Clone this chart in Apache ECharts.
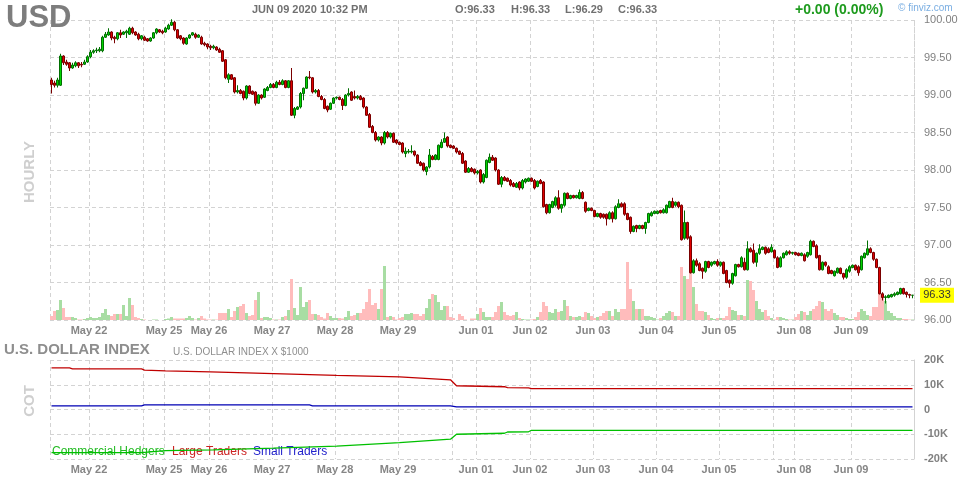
<!DOCTYPE html>
<html><head><meta charset="utf-8">
<script src="https://cdn.jsdelivr.net/npm/echarts/dist/echarts.min.js"></script>
<style>html,body{margin:0;padding:0;background:#fff}#c{width:964px;height:480px}</style>
</head><body><div id="c"></div>
<script>
// trading sessions: [label, number of hourly bars]
const days = [['May 21',13],['May 22',18],['',7],['May 25',15],['May 26',21],['May 27',21],['May 28',21],['May 29',18],['',8],['Jun 01',18],['Jun 02',21],['Jun 03',21],['Jun 04',21],['Jun 05',18],['',7],['Jun 08',19],['Jun 09',21]];
// hourly candles [open, close, low, high]
const candles = [
[99.20,99.14,99.02,99.23],[99.16,99.13,99.10,99.19],[99.13,99.20,99.10,99.23],[99.13,99.52,99.12,99.55],[99.52,99.43,99.40,99.53],[99.44,99.41,99.39,99.47],
[99.43,99.36,99.32,99.44],[99.36,99.40,99.35,99.43],[99.39,99.43,99.37,99.45],[99.43,99.39,99.36,99.44],[99.41,99.40,99.37,99.44],[99.41,99.44,99.40,99.47],
[99.44,99.51,99.43,99.53],[99.51,99.57,99.49,99.60],[99.57,99.59,99.55,99.61],[99.59,99.60,99.56,99.63],[99.59,99.61,99.57,99.64],[99.59,99.77,99.57,99.79],
[99.77,99.81,99.76,99.84],[99.80,99.84,99.79,99.89],[99.84,99.76,99.73,99.85],[99.77,99.75,99.69,99.79],[99.75,99.83,99.73,99.84],[99.83,99.80,99.76,99.87],
[99.81,99.84,99.80,99.85],[99.83,99.85,99.76,99.87],[99.81,99.89,99.80,99.91],[99.89,99.83,99.81,99.91],[99.84,99.80,99.79,99.85],[99.81,99.75,99.73,99.83],
[99.75,99.79,99.73,99.80],[99.77,99.73,99.72,99.79],[99.75,99.72,99.71,99.76],[99.72,99.76,99.71,99.77],[99.76,99.83,99.75,99.84],[99.83,99.88,99.81,99.89],
[99.87,99.84,99.83,99.88],[99.85,99.83,99.81,99.87],[99.84,99.89,99.83,99.91],[99.88,99.93,99.87,99.95],[99.93,99.97,99.92,100.01],[99.97,99.87,99.85,99.99],
[99.87,99.76,99.75,99.88],[99.79,99.75,99.73,99.80],[99.76,99.69,99.67,99.77],[99.68,99.76,99.67,99.77],[99.76,99.80,99.75,99.81],[99.80,99.83,99.79,99.84],
[99.81,99.77,99.75,99.83],[99.77,99.80,99.76,99.81],[99.77,99.68,99.67,99.79],[99.69,99.67,99.65,99.71],[99.68,99.64,99.61,99.69],[99.65,99.63,99.60,99.67],
[99.63,99.65,99.61,99.67],[99.64,99.60,99.59,99.65],[99.61,99.57,99.56,99.63],[99.59,99.45,99.44,99.60],[99.47,99.23,99.21,99.48],[99.21,99.27,99.16,99.29],
[99.27,99.21,99.20,99.28],[99.23,99.04,99.02,99.24],[99.04,99.06,99.02,99.13],[99.06,99.02,99.01,99.08],[99.05,98.96,98.93,99.06],[98.96,99.12,98.94,99.13],
[99.12,99.02,99.01,99.13],[99.05,99.01,99.00,99.06],[99.04,98.89,98.86,99.05],[98.89,99.00,98.88,99.01],[99.00,98.96,98.94,99.01],[98.97,99.08,98.96,99.09],
[99.06,99.10,99.05,99.12],[99.10,99.14,99.09,99.16],[99.14,99.10,99.09,99.16],[99.10,99.17,99.09,99.19],[99.17,99.14,99.13,99.20],[99.14,99.19,99.13,99.21],
[99.19,99.10,99.09,99.20],[99.10,99.19,99.09,99.20],[99.19,98.73,98.72,99.36],[98.73,98.82,98.69,98.84],[98.81,98.84,98.80,98.85],[98.84,99.02,98.82,99.04],
[99.02,99.09,98.93,99.10],[99.09,99.24,99.08,99.25],[99.24,99.23,99.21,99.32],[99.23,99.04,99.02,99.24],[99.04,99.06,99.02,99.08],[99.06,98.98,98.97,99.08],
[98.98,98.94,98.93,99.00],[98.94,98.82,98.81,98.96],[98.85,98.80,98.77,98.86],[98.81,98.89,98.80,98.90],[98.89,98.96,98.88,98.97],[98.96,98.97,98.94,98.98],
[98.97,98.94,98.93,98.98],[98.94,98.86,98.80,98.96],[98.86,99.00,98.85,99.01],[99.00,99.02,98.98,99.09],[99.04,98.93,98.92,99.05],[98.98,98.96,98.94,99.06],
[98.96,98.98,98.94,99.00],[98.98,98.94,98.93,99.00],[98.96,98.84,98.82,98.97],[98.84,98.73,98.72,98.85],[98.74,98.57,98.56,98.76],[98.58,98.50,98.49,98.60],
[98.50,98.40,98.38,98.52],[98.40,98.44,98.38,98.45],[98.44,98.36,98.33,98.45],[98.36,98.50,98.34,98.52],[98.50,98.44,98.42,98.52],[98.44,98.49,98.42,98.50],
[98.49,98.37,98.36,98.50],[98.40,98.36,98.34,98.41],[98.37,98.34,98.33,98.38],[98.36,98.24,98.22,98.37],[98.22,98.25,98.17,98.30],[98.24,98.25,98.22,98.28],
[98.24,98.25,98.22,98.33],[98.25,98.20,98.18,98.26],[98.20,98.09,98.08,98.21],[98.10,98.06,98.05,98.12],[98.09,98.00,97.98,98.10],[97.98,98.04,97.93,98.05],
[98.04,98.20,98.02,98.28],[98.18,98.14,98.13,98.20],[98.14,98.20,98.13,98.21],[98.14,98.33,98.13,98.34],[98.30,98.37,98.29,98.41],[98.37,98.42,98.36,98.50],
[98.44,98.32,98.30,98.45],[98.33,98.30,98.29,98.34],[98.32,98.29,98.28,98.33],[98.29,98.24,98.22,98.30],[98.25,98.21,98.20,98.26],[98.22,98.09,98.08,98.24],
[98.12,97.97,97.96,98.13],[97.97,98.02,97.96,98.04],[98.02,97.98,97.97,98.04],[98.01,97.96,97.94,98.02],[97.96,97.98,97.94,98.00],[98.00,97.84,97.82,98.01],
[97.84,97.94,97.82,97.96],[97.90,98.13,97.89,98.14],[98.10,98.17,98.09,98.22],[98.17,98.13,98.12,98.20],[98.16,98.00,97.98,98.17],[98.00,97.81,97.80,98.01],
[97.81,97.90,97.77,97.92],[97.90,97.86,97.85,97.92],[97.89,97.85,97.84,97.90],[97.86,97.80,97.78,97.88],[97.82,97.78,97.77,97.84],[97.77,97.82,97.76,97.84],
[97.84,97.76,97.73,97.85],[97.76,97.86,97.74,97.88],[97.84,97.88,97.82,97.89],[97.85,97.89,97.84,97.90],[97.89,97.85,97.84,97.90],[97.86,97.76,97.74,97.88],
[97.78,97.85,97.77,97.86],[97.86,97.82,97.81,97.88],[97.84,97.51,97.50,97.85],[97.54,97.43,97.41,97.55],[97.43,97.54,97.42,97.55],[97.50,97.58,97.49,97.59],
[97.53,97.63,97.51,97.65],[97.63,97.49,97.47,97.73],[97.49,97.54,97.43,97.55],[97.53,97.69,97.51,97.70],[97.69,97.62,97.61,97.70],[97.62,97.66,97.61,97.67],
[97.66,97.63,97.62,97.67],[97.63,97.66,97.62,97.67],[97.62,97.70,97.61,97.74],[97.70,97.62,97.61,97.72],[97.57,97.45,97.43,97.58],[97.46,97.49,97.45,97.50],
[97.49,97.46,97.45,97.50],[97.46,97.38,97.37,97.47],[97.38,97.42,97.37,97.43],[97.42,97.37,97.35,97.43],[97.41,97.37,97.35,97.42],[97.41,97.35,97.26,97.42],
[97.35,97.43,97.34,97.45],[97.43,97.35,97.30,97.45],[97.35,97.51,97.34,97.53],[97.50,97.55,97.49,97.61],[97.55,97.51,97.50,97.57],[97.55,97.41,97.39,97.57],
[97.42,97.34,97.33,97.43],[97.37,97.18,97.15,97.38],[97.18,97.25,97.17,97.26],[97.26,97.22,97.17,97.27],[97.22,97.26,97.21,97.27],[97.26,97.22,97.21,97.27],
[97.22,97.30,97.15,97.31],[97.30,97.42,97.29,97.43],[97.39,97.43,97.38,97.45],[97.42,97.45,97.41,97.46],[97.42,97.45,97.41,97.46],[97.46,97.43,97.42,97.47],
[97.43,97.47,97.42,97.49],[97.43,97.53,97.42,97.54],[97.50,97.58,97.49,97.59],[97.58,97.50,97.49,97.63],[97.53,97.57,97.51,97.58],[97.57,97.51,97.49,97.58],
[97.53,97.07,97.06,97.54],[97.09,97.30,97.07,97.46],[97.30,97.09,97.07,97.31],[97.11,96.63,96.62,97.13],[96.63,96.79,96.62,96.81],[96.79,96.73,96.71,96.82],
[96.75,96.66,96.65,96.77],[96.69,96.65,96.55,96.70],[96.65,96.78,96.63,96.79],[96.78,96.70,96.69,96.79],[96.73,96.77,96.71,96.78],[96.75,96.78,96.74,96.79],
[96.78,96.73,96.71,96.81],[96.73,96.77,96.71,96.78],[96.77,96.62,96.61,96.78],[96.66,96.50,96.49,96.67],[96.53,96.49,96.43,96.54],[96.49,96.62,96.47,96.63],
[96.59,96.74,96.58,96.75],[96.74,96.71,96.70,96.75],[96.71,96.83,96.70,96.85],[96.77,96.67,96.66,96.83],[96.67,96.95,96.66,97.05],[96.95,96.91,96.90,96.97],
[96.93,96.77,96.75,97.02],[96.77,96.89,96.71,96.90],[96.89,96.95,96.87,97.01],[96.94,96.97,96.93,96.98],[96.97,96.89,96.87,96.98],[96.95,96.90,96.89,96.97],
[96.91,96.97,96.90,97.01],[96.93,96.83,96.82,96.94],[96.83,96.70,96.69,96.85],[96.71,96.83,96.70,96.85],[96.83,96.89,96.82,96.90],[96.87,96.91,96.86,96.93],
[96.91,96.89,96.87,96.93],[96.89,96.90,96.87,96.91],[96.90,96.87,96.86,96.91],[96.89,96.86,96.85,96.90],[96.86,96.89,96.85,96.90],[96.87,96.79,96.78,96.89],
[96.85,96.90,96.83,96.91],[96.87,97.05,96.86,97.07],[97.05,96.98,96.97,97.06],[96.99,96.83,96.82,97.01],[96.86,96.67,96.66,96.87],[96.67,96.77,96.66,96.78],
[96.77,96.73,96.71,96.78],[96.71,96.62,96.61,96.73],[96.66,96.62,96.61,96.67],[96.59,96.65,96.58,96.66],[96.63,96.69,96.62,96.70],[96.69,96.62,96.61,96.70],
[96.62,96.57,96.54,96.63],[96.57,96.67,96.55,96.69],[96.65,96.71,96.63,96.73],[96.70,96.73,96.69,96.74],[96.73,96.67,96.66,96.74],[96.71,96.63,96.59,96.73],
[96.67,96.85,96.66,96.86],[96.83,96.89,96.82,96.90],[96.87,96.95,96.86,97.06],[96.95,96.90,96.89,96.97],[96.90,96.81,96.79,96.91],[96.81,96.70,96.69,96.82],
[96.70,96.35,96.34,96.71],[96.35,96.30,96.26,96.37],[96.30,96.31,96.22,96.33],[96.30,96.33,96.29,96.34],[96.31,96.34,96.30,96.35],[96.33,96.35,96.31,96.37],
[96.34,96.37,96.33,96.38],[96.35,96.42,96.34,96.43],[96.42,96.35,96.34,96.43],[96.37,96.34,96.30,96.38],[96.34,96.33,96.29,96.35],[96.33,96.33,96.29,96.33]
];
// hourly volume (relative units)
const volume = [
4,9,10,20,12,3,3,3,2,0.5, 0.5,1,2,3,2,2,3,7,11,5, 4,6,6,6,15,4,22,15,3,2, 1,0.5,0,0,0.5,0.5,0,0,1,1.5,
3,1.5,1.5,1.5,1.5,2,4,2,0.5,2, 4,1.5,0.5,0.5,0.5,0.5,7,7,7,11, 3,9,13,14,16,7,4,5,20,28, 2,3,3,2,0.5,0.5,0.5,3,4,10,
41,12,5,33,13,18,20,6,6,5, 3,1.5,7,4,2,2,2,1.5,3,9, 4,5,7,7,11,18,31,15,17,11, 31,54,3,4,3,0.5,2,3,6,6,
7,6,6,4,6,12,21,26,25,18, 10,14,14,3,2,0,6,4,0.5,0, 1.5,1.5,6,12,8,3,3,3,8,14, 18,8,5,4,5,8,2,1,0.5,0.5,
0.5,1,3,8,18,14,8,7,11,8, 9,20,14,4,3,3,4,3,8,7, 4,2,3,4,7,9,9,4,11,8, 11,11,58,31,19,11,11,11,4,4,
3,2,0.5,2,4,7,9,8,4,4, 53,44,41,48,33,16,9,9,8,5, 2,1,2,2,2,4,13,10,9,5, 5,4,40,39,30,19,11,8,10,4,
2,0.5,3,3,2,1,0.5,0.5,3,6, 9,8,5,9,11,14,19,18,11,9, 11,7,5,3,3,2,1,1,3,8, 11,9,5,4,13,13,30,26,19,9,
7,4,2,2,1,1,0.5,0.5
];
// COT positions (thousands), [bar index, value]
const cotCommercial = [[0,-17.4],[30,-17.4],[38,-16.6],[54,-16.3],[74,-15.6],[95,-14.8],[116,-13.4],[133,-12.0],[135,-10.0],[151,-9.6],[152,-9.1],[159,-9.0],[160,-8.4],[287,-8.4]];
const cotLarge = [[0,16.8],[6,16.8],[7,16.4],[30,16.4],[31,15.9],[38,15.6],[53,15.2],[74,14.5],[95,13.8],[116,13.2],[133,12.0],[135,9.6],[151,9.2],[152,8.8],[159,8.7],[160,8.4],[287,8.4]];
const cotSmall = [[0,1.5],[30,1.5],[31,1.9],[86,1.9],[87,1.5],[133,1.5],[135,1.1],[287,1.1]];
const priceTicks = {min:96, max:100, step:0.5};
const cotTicks = {min:-20, max:20, step:10};

const categories = [];
const dayStart = new Set(), labelStart = new Set();
let idx = 0;
days.forEach(([label, n]) => {
  dayStart.add(idx);
  if (label && idx > 0) labelStart.add(idx);
  for (let h = 0; h < n; h++) categories.push((label || 'Sun') + ' #' + h);
  idx += n;
});

const GRID = '#d3d3d3', DASH = [4,3];
function xAxis(gi){
  return {type:'category', gridIndex:gi, data:categories, boundaryGap:true,
    axisLine:{show:false}, axisTick:{show:false},
    axisLabel:{interval:(i)=>labelStart.has(i), formatter:(v)=>v.split(' #')[0],
      color:'#868686', fontWeight:'bold', fontSize:11, fontFamily:'Arial', margin:5, padding:[0,3,0,0]},
    splitLine:{show:true, interval:(i)=>dayStart.has(i), lineStyle:{color:GRID, type:DASH, width:1}}};
}
const chart = echarts.init(document.getElementById('c'), null, {renderer:'canvas'});
const upFill='#00d400', upBorder='#006e00', dnFill='#e00000', dnBorder='#7a0000';
chart.setOption({
  animation:false,
  backgroundColor:'#fff',
  grid:[{left:50, right:50, top:20, bottom:160, outerBoundsMode:'none', containLabel:false},
        {left:50, right:50, top:360, bottom:21, outerBoundsMode:'none', containLabel:false}],
  xAxis:[xAxis(0), xAxis(1)],
  yAxis:[
    {type:'value', gridIndex:0, position:'right', min:priceTicks.min, max:priceTicks.max, interval:priceTicks.step,
     axisLine:{show:true, lineStyle:{color:GRID, type:DASH}}, axisTick:{show:false},
     axisLabel:{formatter:(v)=>v.toFixed(2), color:'#808080', fontSize:11, fontFamily:'Arial', margin:10},
     splitLine:{show:true, lineStyle:{color:GRID, type:DASH}}},
    {type:'value', gridIndex:0, min:0, max:300, show:false, splitLine:{show:false}},
    {type:'value', gridIndex:1, position:'right', min:cotTicks.min, max:cotTicks.max, interval:cotTicks.step,
     axisLine:{show:true, lineStyle:{color:GRID, type:DASH}}, axisTick:{show:false},
     axisLabel:{formatter:(v)=>v===0?'0':v+'K', color:'#808080', fontSize:11, fontWeight:'bold', fontFamily:'Arial', margin:10},
     splitLine:{show:true, lineStyle:{color:GRID, type:DASH}}}
  ],
  series:[
    {type:'bar', xAxisIndex:0, yAxisIndex:1, data:volume, barCategoryGap:'0%', silent:true, z:1,
     itemStyle:{color:(p)=>{const c=candles[p.dataIndex]; return c[1]>=c[0]?'#a8dda3':'#ffbcbc';}}},
    {type:'candlestick', xAxisIndex:0, yAxisIndex:0, data:candles, barWidth:3, z:3,
     itemStyle:{color:upFill, color0:dnFill, borderColor:upBorder, borderColor0:dnBorder, borderWidth:1}},
    {type:'line', xAxisIndex:1, yAxisIndex:2, data:cotCommercial, showSymbol:false, z:3, lineStyle:{color:'#00c000', width:1.3}},
    {type:'line', xAxisIndex:1, yAxisIndex:2, data:cotLarge, showSymbol:false, z:3, lineStyle:{color:'#c00000', width:1.3}},
    {type:'line', xAxisIndex:1, yAxisIndex:2, data:cotSmall, showSymbol:false, z:3, lineStyle:{color:'#0000b4', width:1.3}}
  ]
});

const last = candles[candles.length-1];
const ly = chart.convertToPixel({yAxisIndex:0}, last[1]);
function T(text, x, y, font, fill, extra){
  return Object.assign({type:'text', x:x, y:y, z:10,
    style:{text:text, font:font, fill:fill, align:'left', verticalAlign:'middle', textAlign:'left', textVerticalAlign:'middle'}}, extra||{});
}
chart.setOption({graphic:[
  T('USD', 6, 18, 'bold 31px Arial', '#7d7d7d'),
  T('JUN 09 2020 10:32 PM', 252, 10, 'bold 11px Arial', '#707070'),
  T('O:' + last[0].toFixed(2), 455, 10, 'bold 11px Arial', '#707070'),
  T('H:' + last[3].toFixed(2), 511, 10, 'bold 11px Arial', '#707070'),
  T('L:' + last[2].toFixed(2), 565, 10, 'bold 11px Arial', '#707070'),
  T('C:' + last[1].toFixed(2), 618, 10, 'bold 11px Arial', '#707070'),
  T('+0.00 (0.00%)', 795, 10, 'bold 14px Arial', '#1e9b1e'),
  T('\u00a9 finviz.com', 898, 8, '10px Arial', '#7aaee2'),
  {type:'text', x:30, y:172, rotation:Math.PI/2, z:10,
   style:{text:'HOURLY', font:'bold 15px Arial', fill:'#cfcfcf', align:'center', verticalAlign:'middle', textAlign:'center', textVerticalAlign:'middle'}},
  {type:'text', x:30, y:401, rotation:Math.PI/2, z:10,
   style:{text:'COT', font:'bold 15px Arial', fill:'#cfcfcf', align:'center', verticalAlign:'middle', textAlign:'center', textVerticalAlign:'middle'}},
  T('U.S. DOLLAR INDEX', 4, 350, 'bold 15px Arial', '#8e8e8e'),
  T('U.S. DOLLAR INDEX X $1000', 173, 352, '10px Arial', '#8e8e8e'),
  T('Commercial Hedgers', 52, 452, '12px Arial', '#22bb22', {z:1}),
  T('Large Traders', 172, 452, '12px Arial', '#cc2222', {z:1}),
  T('Small Traders', 253, 452, '12px Arial', '#2222cc', {z:1}),
  {type:'rect', x:920, y:ly-7.5, z:10, shape:{width:34, height:15}, style:{fill:'#ffff00'}},
  {type:'text', x:937, y:ly, z:11, style:{text:last[1].toFixed(2), font:'11px Arial', fill:'#333', align:'center', verticalAlign:'middle', textAlign:'center', textVerticalAlign:'middle'}}
]});
</script></body></html>
